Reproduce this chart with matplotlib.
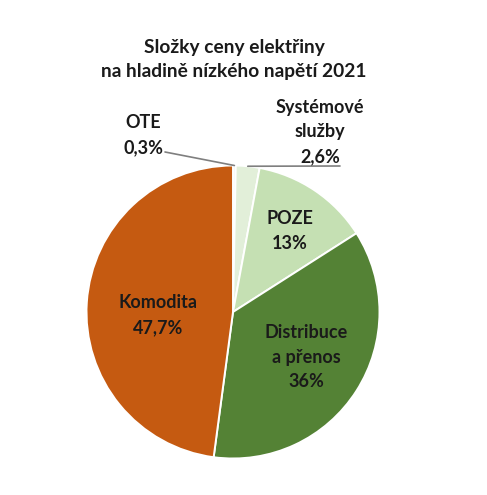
import matplotlib
matplotlib.use("Agg")
import matplotlib.pyplot as plt
import numpy as np

categories = ["OTE", "Systémové\nslužby", "POZE", "Distribuce\na přenos", "Komodita"]
values = [0.3, 2.6, 13, 36, 47.7]
value_labels = ["0,3%", "2,6%", "13%", "36%", "47,7%"]
colors = ["#f2f2f2", "#e2efd9", "#c5e0b3", "#548235", "#c55a11"]
title = "Složky ceny elektřiny\nna hladině nízkého napětí 2021"

W, H = 487, 495
fig = plt.figure(figsize=(W / 100, H / 100), dpi=100)
plt.rcParams['font.family'] = ['Lato', 'DejaVu Sans']

cx, cy, r = 233, 312, 146.5
ax = fig.add_axes([(cx - r) / W, 1 - (cy + r) / H, 2 * r / W, 2 * r / H])
wedges, _ = ax.pie(values, colors=colors, startangle=90, counterclock=False,
                   wedgeprops=dict(edgecolor="white", linewidth=1.4), radius=1)
ax.set_xlim(-1, 1)
ax.set_ylim(-1, 1)
ax.set_aspect("equal")
ax.axis("off")

def fpos(px, py):
    return px / W, 1 - py / H

txt = "#1a1a1a"
fig.text(*fpos(234, 60), title, ha="center", va="center", fontsize=13.8,
         fontweight="bold", color=txt, linespacing=1.5)

fs = 13
ls = 1.55
inside = {2: (290, 231), 3: (306, 357), 4: (158, 315)}
for i, (px, py) in inside.items():
    fig.text(*fpos(px, py), categories[i] + "\n" + value_labels[i], ha="center", va="center",
             fontsize=fs, fontweight="bold", color=txt, linespacing=ls)

def wedge_edge(i):
    w = wedges[i]
    ang = np.deg2rad((w.theta1 + w.theta2) / 2)
    return np.cos(ang), np.sin(ang)

# OTE
fig.text(*fpos(143, 135), categories[0] + "\n" + value_labels[0], ha="center", va="center",
         fontsize=fs, fontweight="bold", color=txt, linespacing=ls)
ex, ey = wedge_edge(0)
x0, y0 = fpos(165, 152)
ax.annotate("", xy=(ex, ey), xytext=(x0, y0), textcoords="figure fraction",
            arrowprops=dict(arrowstyle="-", color="#7f7f7f", lw=1.2,
                            shrinkA=0, shrinkB=0))

# Systémové služby
fig.text(*fpos(320, 132), categories[1] + "\n" + value_labels[1], ha="center", va="center",
         fontsize=fs, fontweight="bold", color=txt, linespacing=ls)
ex, ey = wedge_edge(1)
x1, y1 = fpos(340, 166)
ax.annotate("", xy=(ex, ey), xytext=(x1, y1), textcoords="figure fraction",
            arrowprops=dict(arrowstyle="-", color="#7f7f7f", lw=1.2,
                            shrinkA=0, shrinkB=0))

fig.savefig("out.png", dpi=100, facecolor="white")
